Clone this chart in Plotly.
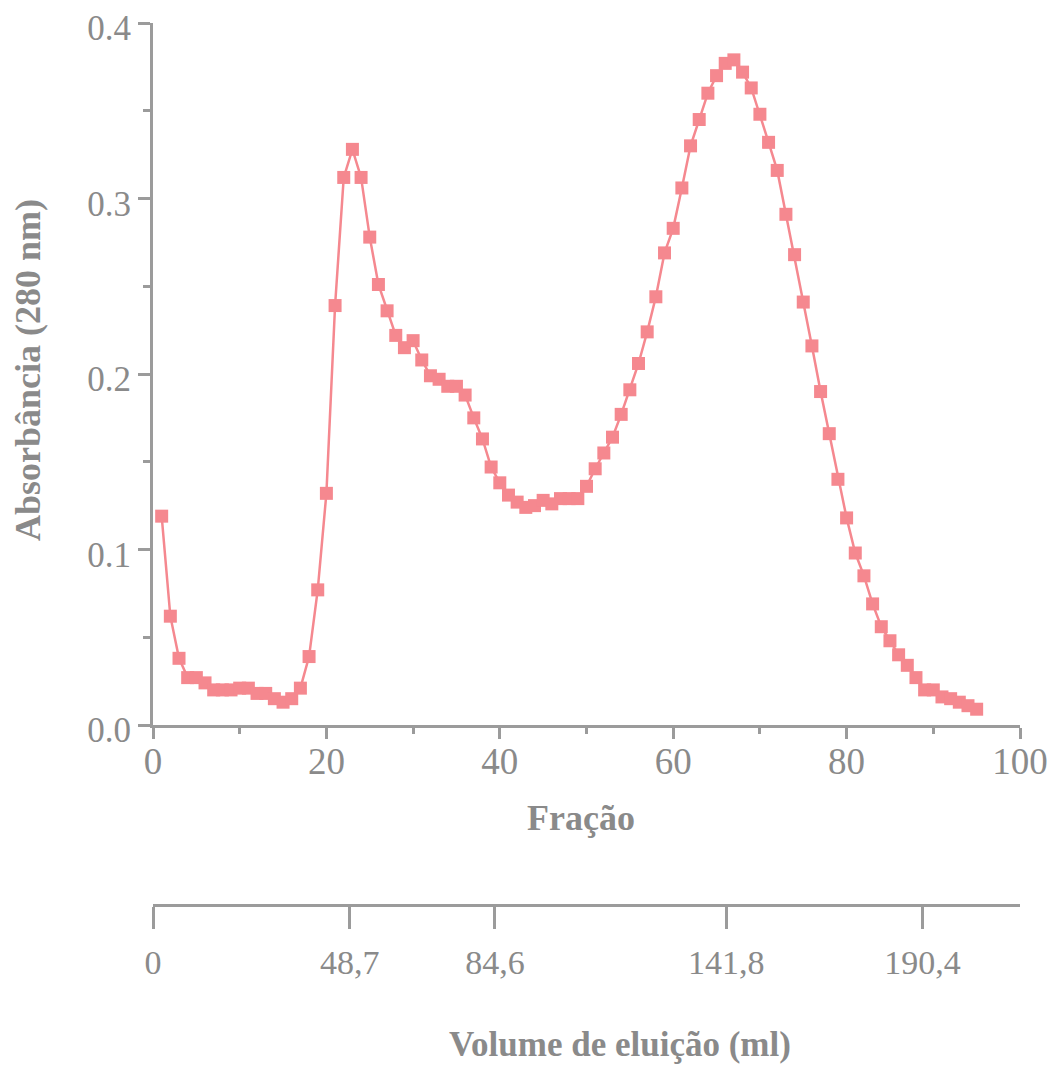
import plotly.graph_objects as go

# Absorbance (280 nm) of each collected fraction
fractions = list(range(1, 96))
absorbance = [
    0.119, 0.062, 0.038, 0.027, 0.027, 0.024, 0.020, 0.020, 0.020, 0.021,
    0.021, 0.018, 0.018, 0.015, 0.013, 0.015, 0.021, 0.039, 0.077, 0.132,
    0.239, 0.312, 0.328, 0.312, 0.278, 0.251, 0.236, 0.222, 0.215, 0.219,
    0.208, 0.199, 0.197, 0.193, 0.193, 0.188, 0.175, 0.163, 0.147, 0.138,
    0.131, 0.127, 0.124, 0.125, 0.128, 0.126, 0.129, 0.129, 0.129, 0.136,
    0.146, 0.155, 0.164, 0.177, 0.191, 0.206, 0.224, 0.244, 0.269, 0.283,
    0.306, 0.330, 0.345, 0.360, 0.370, 0.377, 0.379, 0.372, 0.363, 0.348,
    0.332, 0.316, 0.291, 0.268, 0.241, 0.216, 0.190, 0.166, 0.140, 0.118,
    0.098, 0.085, 0.069, 0.056, 0.048, 0.040, 0.034, 0.027, 0.020, 0.020,
    0.016, 0.015, 0.013, 0.011, 0.009,
]

# Elution volume scale (ml) shown under the fraction axis
ml_per_fraction = 2.145
volume_ticks = [0, 48.7, 84.6, 141.8, 190.4]
volume_labels = ["0", "48,7", "84,6", "141,8", "190,4"]

y_ticks = [0.0, 0.1, 0.2, 0.3, 0.4]
x_ticks = [0, 20, 40, 60, 80, 100]

LINE = "#f5888f"
AXIS = "#9b9b9b"
TEXT = "#8a8a8a"
FONT = "Liberation Serif"

fig = go.Figure()
# empty trace so the volume axis is laid out (overlaid, drawn first)
fig.add_trace(go.Scatter(x=[], y=[], xaxis="x2", yaxis="y", showlegend=False))
fig.add_trace(go.Scatter(
    x=fractions, y=absorbance, mode="lines+markers",
    line=dict(color=LINE, width=2.5),
    marker=dict(symbol="square", size=13, color=LINE),
    showlegend=False,
))

W, H = 1054, 1065
L, R, T, B = 153, 34, 23, 160
plot_h = H - T - B
y0_px = 725
ydom0 = (H - B - y0_px) / plot_h

def px(xp):
    return (xp - L) / (W - L - R)

def py(yp):
    return (H - B - yp) / plot_h

fig.update_layout(
    width=W, height=H, autosize=False,
    margin=dict(l=L, r=R, t=T, b=B),
    paper_bgcolor="white", plot_bgcolor="white",
    template="none",
    xaxis=dict(
        range=[0, 100], tickvals=x_ticks, showgrid=False, zeroline=False,
        showline=True, linecolor=AXIS, linewidth=3,
        ticks="outside", ticklen=11, tickwidth=3, tickcolor=AXIS,
        minor=dict(dtick=10, ticks="outside", ticklen=6, tickwidth=3, tickcolor=AXIS, showgrid=False),
        tickfont=dict(family=FONT, size=37, color=TEXT),
        ticklabelstandoff=-9,
        anchor="y", automargin=False,
    ),
    yaxis=dict(
        range=[0, 0.4], tickvals=y_ticks, tickformat=".1f", domain=[ydom0, 1],
        showgrid=False, zeroline=False,
        showline=True, linecolor=AXIS, linewidth=3,
        ticks="outside", ticklen=12, tickwidth=3, tickcolor=AXIS,
        minor=dict(dtick=0.05, ticks="outside", ticklen=7, tickwidth=3, tickcolor=AXIS, showgrid=False),
        tickfont=dict(family=FONT, size=35, color=TEXT),
        ticklabelshift=5,
        anchor="x", automargin=False,
    ),
    xaxis2=dict(
        range=[0, 100 * ml_per_fraction], tickvals=volume_ticks, ticktext=volume_labels,
        overlaying="x", anchor="free", position=0,
        showgrid=False, zeroline=False,
        showline=True, linecolor=AXIS, linewidth=3,
        ticks="outside", ticklen=22, tickwidth=3, tickcolor=AXIS,
        ticklabelstandoff=4,
        tickfont=dict(family=FONT, size=34, color=TEXT),
        automargin=False,
    ),
    annotations=[
        dict(text="<b>Fração</b>", xref="paper", yref="paper", x=px(581), y=py(818),
             xanchor="center", yanchor="middle", showarrow=False,
             font=dict(family=FONT, size=36, color=TEXT)),
        dict(text="<b>Absorbância (280 nm)</b>", xref="paper", yref="paper", x=px(28), y=py(370),
             xanchor="center", yanchor="middle", showarrow=False, textangle=-90,
             font=dict(family=FONT, size=36, color=TEXT)),
        dict(text="<b>Volume de eluição (ml)</b>", xref="paper", yref="paper", x=px(620), y=py(1044),
             xanchor="center", yanchor="middle", showarrow=False,
             font=dict(family=FONT, size=35, color=TEXT)),
    ],
)

fig.write_html("out.html")
